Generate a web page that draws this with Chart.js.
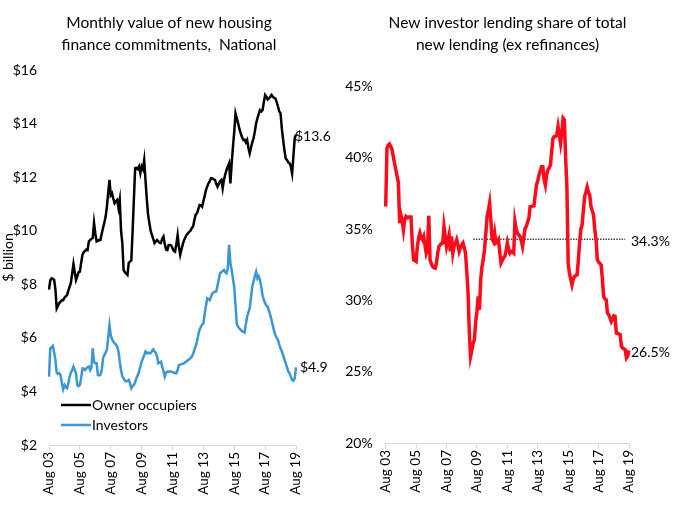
<!DOCTYPE html>
<html>
<head>
<meta charset="utf-8">
<script src="https://cdn.jsdelivr.net/npm/chart.js@4.4.1/dist/chart.umd.min.js"></script>
<style>
  html, body { margin: 0; padding: 0; background: #fff; }
  #wrap { position: relative; width: 677px; height: 506px; }
  #c1 { position: absolute; left: 0; top: 0; }
  #c2 { position: absolute; left: 338px; top: 0; }
</style>
</head>
<body>
<div id="wrap">
  <canvas id="c1" width="338" height="506"></canvas>
  <canvas id="c2" width="339" height="506"></canvas>
</div>
<script>
// ---------- DATA (monthly, Aug 2003 .. Aug 2019) ----------
const startYear = 2003;
const startMonth = 7; // August (0-based)
const monthCount = 193;
const monthNames = ['Jan','Feb','Mar','Apr','May','Jun','Jul','Aug','Sep','Oct','Nov','Dec'];

const xTickLabels = ['Aug 03','Aug 05','Aug 07','Aug 09','Aug 11','Aug 13','Aug 15','Aug 17','Aug 19'];

// $ billion
const ownerOccupiers = [
  7.8, 8.15, 8.22, 8.2, 8.16, 7.8, 7.1, 7.2, 7.3, 7.35, 7.4, 7.4,
  7.5, 7.55, 7.6, 7.75, 7.9, 8.05, 8.4, 8.76, 8.45, 8.16, 8.3, 8.45,
  8.47, 8.8, 9.1, 9.2, 9.25, 9.3, 9.28, 9.6, 9.65, 9.7, 9.73, 10.3,
  9.9, 9.6, 9.62, 9.65, 9.65, 9.9, 10.1, 10.3, 10.52, 10.9, 11.4, 11.9,
  11.33, 11.4, 11.2, 11.03, 11.1, 11.15, 10.85, 11.15, 10.0, 9.54, 8.53, 8.45,
  8.4, 8.35, 8.8, 8.85, 8.9, 10.0, 11.2, 12.34, 12.35, 12.3, 12.4, 12.15,
  12.4, 12.3, 12.64, 11.9, 11.2, 10.6, 10.3, 10.0, 9.84, 9.7, 9.54, 9.6,
  9.65, 9.6, 9.55, 9.54, 9.7, 9.78, 9.5, 9.3, 9.28, 9.47, 9.47, 9.45,
  9.35, 9.25, 9.22, 9.5, 9.84, 9.4, 9.1, 9.3, 9.5, 9.65, 9.75, 9.85,
  9.9, 9.96, 10.0, 10.1, 10.15, 10.4, 10.6, 10.65, 10.8, 10.96, 10.95, 10.9,
  11.1, 11.3, 11.52, 11.65, 11.77, 11.85, 11.96, 11.95, 11.92, 11.9, 11.75, 11.64,
  11.75, 11.85, 11.9, 11.58, 11.9, 12.1, 12.27, 12.4, 12.52, 11.77, 12.5, 13.14,
  13.7, 14.38, 14.2, 14.01, 13.8, 13.64, 13.5, 13.39, 13.4, 13.3, 13.39, 13.1,
  12.89, 13.1, 13.3, 13.45, 13.7, 14.01, 14.2, 14.35, 14.5, 14.45, 14.5, 14.8,
  15.07, 15.0, 14.9, 14.94, 15.0, 15.07, 15.0, 14.96, 14.94, 14.8, 14.63, 14.45,
  14.38, 13.8, 13.39, 13.0, 12.7, 12.64, 12.55, 12.52, 12.4, 12.14, 12.8, 13.45,
  13.6
];

const investors = [
  4.55, 5.61, 5.65, 5.7, 5.45, 5.17, 4.7, 4.65, 4.68, 4.6, 4.3, 4.08,
  4.24, 4.15, 4.12, 4.3, 4.55, 4.7, 4.8, 4.93, 4.8, 4.68, 4.24, 4.2,
  4.24, 4.5, 4.86, 4.85, 4.8, 4.86, 4.9, 4.93, 4.8, 4.9, 5.61, 5.11,
  5.05, 5.05, 4.62, 4.6, 4.62, 4.8, 5.24, 5.35, 5.45, 5.55, 6.0, 6.48,
  6.1, 5.95, 5.86, 5.8, 5.75, 5.67, 5.5, 5.11, 4.8, 4.55, 4.49, 4.4,
  4.37, 4.4, 4.43, 4.3, 4.12, 4.2, 4.24, 4.35, 4.5, 4.6, 4.75, 4.93,
  5.1, 5.24, 5.35, 5.49, 5.43, 5.45, 5.42, 5.43, 5.5, 5.57, 5.5, 5.43,
  5.3, 5.05, 5.08, 5.11, 4.93, 4.75, 4.55, 4.7, 4.74, 4.73, 4.75, 4.74,
  4.72, 4.7, 4.68, 4.68, 4.8, 4.99, 5.0, 5.02, 5.03, 5.05, 5.1, 5.12,
  5.17, 5.2, 5.24, 5.3, 5.4, 5.55, 5.7, 5.86, 6.1, 6.3, 6.4, 6.5,
  6.54, 6.9, 7.2, 7.48, 7.45, 7.41, 7.55, 7.66, 7.7, 7.72, 7.73, 7.95,
  8.2, 8.41, 8.45, 8.5, 8.53, 8.45, 8.41, 8.6, 9.47, 8.8, 8.53, 8.2,
  7.91, 7.2, 6.5, 6.42, 6.35, 6.3, 6.25, 6.22, 6.2, 6.5, 6.79, 6.95,
  7.1, 7.5, 7.91, 8.1, 8.3, 8.47, 8.22, 8.3, 8.16, 7.9, 7.6, 7.41,
  7.3, 7.2, 7.16, 7.0, 6.85, 6.67, 6.45, 6.25, 6.1, 6.0, 5.92, 5.75,
  5.6, 5.49, 5.35, 5.2, 5.05, 4.9, 4.75, 4.68, 4.55, 4.43, 4.4, 4.49,
  4.9
];

// % of total new lending (ex refinances)
const investorShare = [
  36.6, 40.68, 40.9, 40.98, 40.8, 40.6, 40.1, 39.6, 39.16, 38.7, 38.3, 35.43,
  36.0, 35.6, 34.96, 35.7, 35.9, 35.8, 35.85, 35.85, 35.85, 34.0, 32.85, 32.8,
  32.74, 33.8, 34.4, 34.73, 34.4, 34.26, 34.49, 33.9, 33.32, 33.6, 35.94, 32.85,
  32.6, 32.38, 32.3, 32.27, 32.6, 33.3, 33.79, 33.9, 34.0, 34.03, 35.19, 34.5,
  33.79, 34.2, 34.6, 33.44, 34.49, 33.32, 33.8, 34.0, 34.26, 33.9, 33.44, 33.7,
  33.9, 34.03, 33.7, 33.32, 32.0, 30.52, 27.72, 26.08, 26.5, 27.0, 27.25, 28.5,
  29.23, 30.28, 29.35, 31.5, 32.38, 32.9, 33.56, 34.7, 35.89, 36.3, 36.83, 35.6,
  34.3, 34.14, 34.73, 34.03, 34.1, 34.26, 33.4, 32.62, 32.8, 33.0, 33.09, 33.5,
  34.03, 33.6, 33.32, 33.44, 33.4, 33.32, 35.54, 35.0, 34.73, 34.6, 34.5, 34.2,
  33.79, 34.4, 35.07, 35.2, 35.5, 35.78, 36.59, 36.6, 36.62, 36.64, 37.4, 38.11,
  38.4, 38.81, 39.1, 39.39, 39.39, 38.5, 38.11, 38.8, 39.16, 39.3, 39.51, 40.5,
  41.38, 41.5, 41.5, 41.61, 42.2, 41.6, 41.03, 41.8, 42.79, 42.67, 40.0, 37.99,
  32.62, 31.9, 31.5, 31.1, 31.5, 31.69, 31.75, 31.8, 32.8, 34.03, 35.0, 35.31,
  36.3, 37.29, 37.6, 37.95, 37.6, 37.41, 36.59, 36.3, 36.01, 35.0, 34.26, 32.86,
  32.7, 32.6, 32.5, 31.5, 30.28, 30.1, 30.05, 29.12, 29.0, 28.8, 28.53, 28.7,
  28.93, 28.9, 27.72, 27.7, 27.65, 27.6, 26.8, 26.67, 26.6, 26.55, 25.97, 26.1,
  26.5
];

const averageShare = 34.3;
const averageFrom = 69;   // month index where the average line starts
const averageTo = 189;    // month index where the average line ends

// ---------- build helpers ----------
const months = [];
for (let i = 0; i < monthCount; i++) {
  const m = (startMonth + i) % 12;
  const y = startYear + Math.floor((startMonth + i) / 12);
  months.push(monthNames[m] + ' ' + String(y).slice(2));
}
const averageLine = months.map((_, i) => (i >= averageFrom && i <= averageTo) ? averageShare : null);

const FONT = 'Lato, "Open Sans", "DejaVu Sans", sans-serif';
Chart.defaults.font.family = FONT;
Chart.defaults.color = '#000';
Chart.defaults.animation = false;

function xScale(height) {
  return {
    type: 'category',
    offset: false,
    border: { display: true, color: '#d9d9d9', width: 1 },
    grid: { display: true, drawOnChartArea: false, drawTicks: true, tickLength: 5, color: '#d9d9d9' },
    ticks: {
      autoSkip: false, minRotation: 90, maxRotation: 90, padding: 2,
      font: { size: 13.5 }, color: '#000',
      callback: (v, i) => (i % 24 === 0 ? xTickLabels[i / 24] : null)
    },
    afterFit: (s) => { s.height = height; }
  };
}

// invisible right-hand spacer axis that reserves room for the end labels
function spacer(width) {
  return {
    position: 'right',
    display: true,
    border: { display: false },
    grid: { display: false, drawTicks: false },
    ticks: { display: false },
    afterFit: (s) => { s.width = width; }
  };
}

const endLabels = {
  id: 'endLabels',
  afterDatasetsDraw(chart, args, opts) {
    const ctx = chart.ctx;
    ctx.save();
    ctx.font = '14px ' + FONT;
    ctx.fillStyle = '#000';
    ctx.textBaseline = 'middle';
    ctx.textAlign = 'left';
    (opts.items || []).forEach(it => {
      const ds = chart.data.datasets[it.dataset];
      const meta = chart.getDatasetMeta(it.dataset);
      let idx = ds.data.length - 1;
      while (idx >= 0 && ds.data[idx] == null) idx--;
      const pt = meta.data[idx];
      const x = chart.chartArea.right + (it.dx || 0);
      ctx.fillText(it.text(ds.data[idx]), x, pt.y + (it.dy || 0));
    });
    ctx.restore();
  }
};

const insideLegend = {
  id: 'insideLegend',
  afterDraw(chart, args, opts) {
    if (!opts.show) return;
    const ctx = chart.ctx;
    const ca = chart.chartArea;
    ctx.save();
    ctx.font = '14px ' + FONT;
    ctx.textBaseline = 'middle';
    ctx.textAlign = 'left';
    chart.data.datasets.forEach((ds, i) => {
      const y = ca.bottom - 40 + i * 20;
      const x = ca.left + 12;
      ctx.strokeStyle = ds.borderColor;
      ctx.lineWidth = 2.5;
      ctx.beginPath(); ctx.moveTo(x, y); ctx.lineTo(x + 30, y); ctx.stroke();
      ctx.fillStyle = '#000';
      ctx.fillText(ds.label, x + 31, y);
    });
    ctx.restore();
  }
};

// ---------- left chart ----------
new Chart(document.getElementById('c1'), {
  type: 'line',
  data: {
    labels: months,
    datasets: [
      { label: 'Owner occupiers', data: ownerOccupiers, borderColor: '#000000', borderWidth: 2.5, pointRadius: 0, tension: 0, fill: false },
      { label: 'Investors', data: investors, borderColor: '#3a97d6', borderWidth: 2.5, pointRadius: 0, tension: 0, fill: false }
    ]
  },
  options: {
    responsive: false,
    layout: { padding: 0 },
    plugins: {
      legend: { display: false },
      tooltip: { enabled: false },
      title: {
        display: true,
        text: ['Monthly value of new housing', 'finance commitments,  National'],
        font: { size: 15.5, weight: 'normal', lineHeight: 1.42 },
        color: '#000',
        padding: { top: 12, bottom: 14 }
      },
      endLabels: { items: [
        { dataset: 0, text: v => '$' + v.toFixed(1), dx: -1, dy: 2 },
        { dataset: 1, text: v => '$' + v.toFixed(1), dx: 4, dy: 0 }
      ] },
      insideLegend: { show: true }
    },
    scales: {
      x: xScale(61),
      y: {
        min: 2, max: 16,
        border: { display: false },
        grid: { display: false, drawTicks: false },
        ticks: { stepSize: 2, padding: 12, font: { size: 14 }, color: '#000', callback: v => '$' + v },
        title: { display: true, text: '$ billion', font: { size: 14 }, color: '#000', padding: { top: 0, bottom: 2 } },
        afterFit: (s) => { s.width = 49; }
      },
      pad: spacer(42)
    }
  },
  plugins: [endLabels, insideLegend]
});

// ---------- right chart ----------
new Chart(document.getElementById('c2'), {
  type: 'line',
  data: {
    labels: months,
    datasets: [
      { label: 'Investor share', data: investorShare, borderColor: '#ff0a1a', borderWidth: 3.5, pointRadius: 0, tension: 0, fill: false, order: 1 },
      { label: 'Average', data: averageLine, borderColor: '#444444', borderWidth: 1.4, borderDash: [1.5, 1.2], pointRadius: 0, tension: 0, fill: false, spanGaps: false, order: 2 }
    ]
  },
  options: {
    responsive: false,
    layout: { padding: 0 },
    plugins: {
      legend: { display: false },
      tooltip: { enabled: false },
      title: {
        display: true,
        text: ['New investor lending share of total', 'new lending (ex refinances)'],
        font: { size: 15.5, weight: 'normal', lineHeight: 1.42 },
        color: '#000',
        padding: { top: 12, bottom: 30.7 }
      },
      endLabels: { items: [
        { dataset: 1, text: v => v.toFixed(1) + '%', dx: 2, dy: 2 },
        { dataset: 0, text: v => v.toFixed(1) + '%', dx: 2, dy: 2 }
      ] },
      insideLegend: { show: false }
    },
    scales: {
      x: xScale(63),
      y: {
        min: 20, max: 45,
        border: { display: false },
        grid: { display: false, drawTicks: false },
        ticks: { stepSize: 5, padding: 13, font: { size: 14 }, color: '#000', callback: v => v + '%' },
        afterFit: (s) => { s.width = 47.7; }
      },
      pad: spacer(48)
    }
  },
  plugins: [endLabels, insideLegend]
});
</script>
</body>
</html>
